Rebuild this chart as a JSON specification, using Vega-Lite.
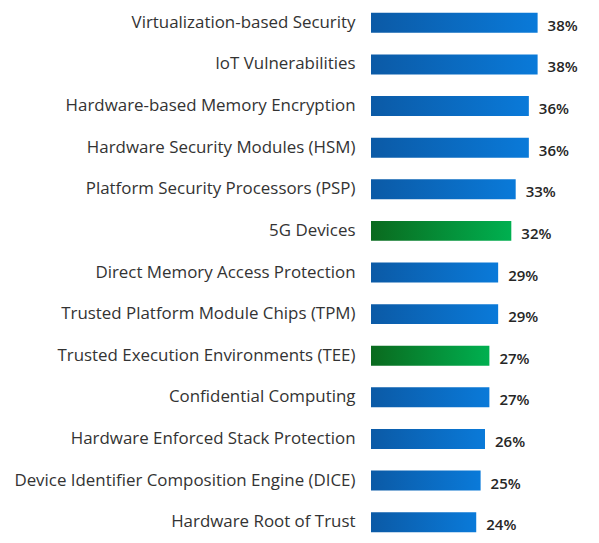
{
  "$schema": "https://vega.github.io/schema/vega-lite/v6.json",
  "autosize": {"type": "none"},
  "padding": {"left": 371, "top": 2, "right": 0, "bottom": 0},
  "width": 228,
  "height": 541,
  "background": "white",
  "data": {
    "values": [
      {"item": "Virtualization-based Security", "share": 0.38, "group": "blue"},
      {"item": "IoT Vulnerabilities", "share": 0.38, "group": "blue"},
      {"item": "Hardware-based Memory Encryption", "share": 0.36, "group": "blue"},
      {"item": "Hardware Security Modules (HSM)", "share": 0.36, "group": "blue"},
      {"item": "Platform Security Processors (PSP)", "share": 0.33, "group": "blue"},
      {"item": "5G Devices", "share": 0.32, "group": "green"},
      {"item": "Direct Memory Access Protection", "share": 0.29, "group": "blue"},
      {"item": "Trusted Platform Module Chips (TPM)", "share": 0.29, "group": "blue"},
      {"item": "Trusted Execution Environments (TEE)", "share": 0.27, "group": "green"},
      {"item": "Confidential Computing", "share": 0.27, "group": "blue"},
      {"item": "Hardware Enforced Stack Protection", "share": 0.26, "group": "blue"},
      {"item": "Device Identifier Composition Engine (DICE)", "share": 0.25, "group": "blue"},
      {"item": "Hardware Root of Trust", "share": 0.24, "group": "blue"}
    ]
  },
  "encoding": {
    "y": {
      "field": "item",
      "type": "nominal",
      "sort": [
        "Virtualization-based Security",
        "IoT Vulnerabilities",
        "Hardware-based Memory Encryption",
        "Hardware Security Modules (HSM)",
        "Platform Security Processors (PSP)",
        "5G Devices",
        "Direct Memory Access Protection",
        "Trusted Platform Module Chips (TPM)",
        "Trusted Execution Environments (TEE)",
        "Confidential Computing",
        "Hardware Enforced Stack Protection",
        "Device Identifier Composition Engine (DICE)",
        "Hardware Root of Trust"
      ],
      "title": null,
      "scale": {"paddingInner": 0.52, "paddingOuter": 0.26},
      "axis": {
        "domain": false,
        "ticks": false,
        "labelPadding": 16,
        "labelFont": "Open Sans",
        "labelFontSize": 16.9,
        "labelColor": "#333333",
        "labelLimit": 400
      }
    },
    "x": {
      "field": "share",
      "type": "quantitative",
      "scale": {"domain": [0, 0.52]},
      "axis": null
    }
  },
  "layer": [
    {
      "transform": [{"filter": "datum.group == 'blue'"}],
      "mark": {
        "type": "bar",
        "color": {
          "gradient": "linear",
          "x1": 0, "y1": 0, "x2": 1, "y2": 0,
          "stops": [
            {"offset": 0, "color": "#0b5aa6"},
            {"offset": 1, "color": "#0a7ad9"}
          ]
        }
      }
    },
    {
      "transform": [{"filter": "datum.group == 'green'"}],
      "mark": {
        "type": "bar",
        "color": {
          "gradient": "linear",
          "x1": 0, "y1": 0, "x2": 1, "y2": 0,
          "stops": [
            {"offset": 0, "color": "#0a6a1e"},
            {"offset": 1, "color": "#00b050"}
          ]
        }
      }
    },
    {
      "mark": {
        "type": "text",
        "align": "left",
        "dx": 10,
        "dy": 3,
        "font": "Open Sans",
        "fontSize": 15,
        "fontWeight": 600,
        "color": "#262626"
      },
      "encoding": {
        "text": {"field": "share", "type": "quantitative", "format": ".0%"}
      }
    }
  ],
  "config": {"view": {"stroke": null}}
}
